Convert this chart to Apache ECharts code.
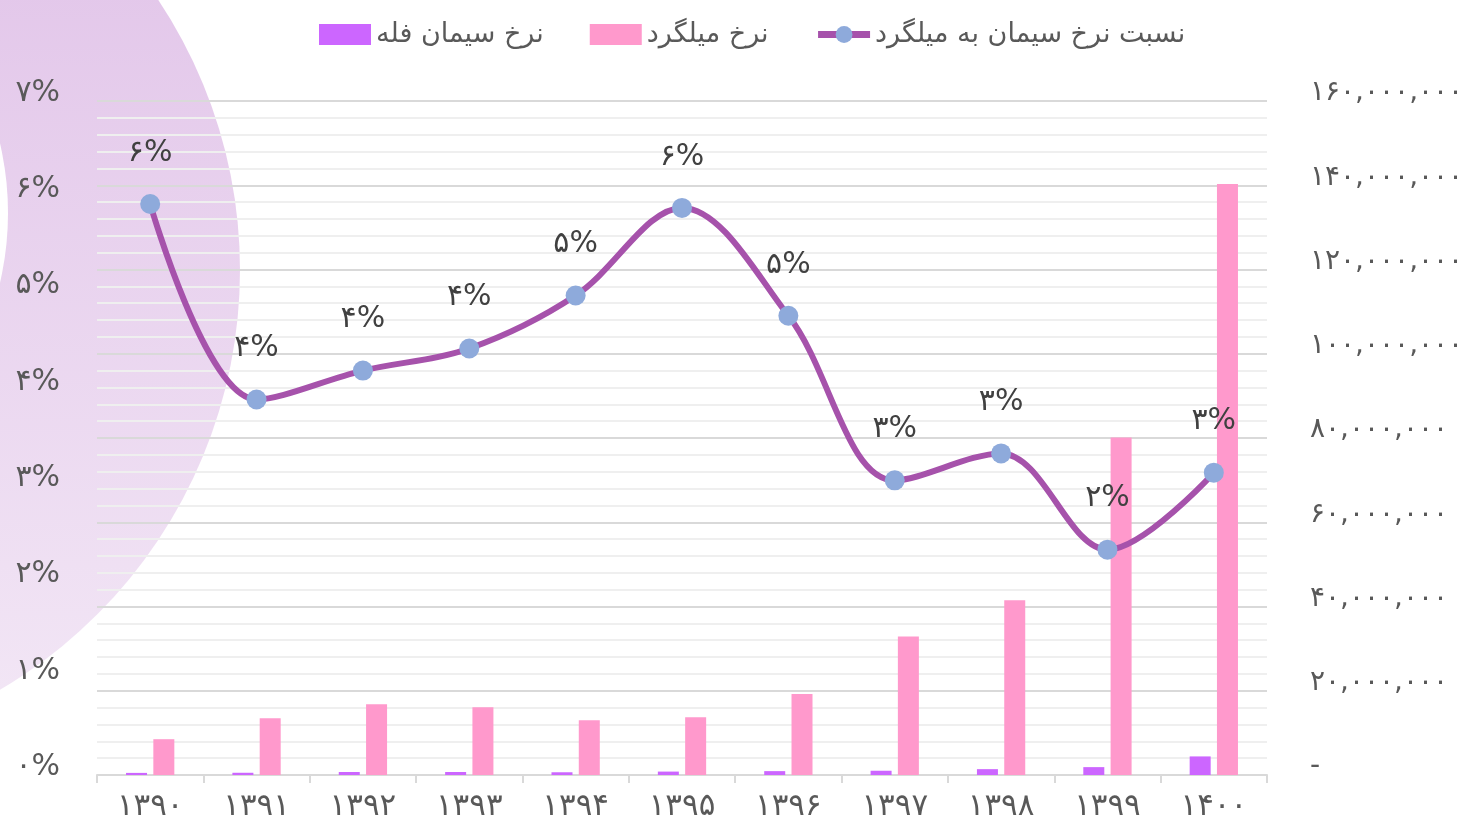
<!DOCTYPE html>
<html>
<head>
<meta charset="utf-8">
<script src="https://cdn.jsdelivr.net/npm/echarts@6/dist/echarts.min.js"></script>
<style>
  html, body { margin: 0; padding: 0; background: #fff; }
  #chart { width: 1478px; height: 822px; }
</style>
</head>
<body>
<div id="chart"></div>
<script>
const years = ["۱۳۹۰", "۱۳۹۱", "۱۳۹۲", "۱۳۹۳", "۱۳۹۴", "۱۳۹۵", "۱۳۹۶", "۱۳۹۷", "۱۳۹۸", "۱۳۹۹", "۱۴۰۰"];

// نرخ میلگرد
const rebarRate = [8500000, 13500000, 16800000, 16100000, 13000000, 13700000, 19200000, 32900000, 41500000, 80100000, 140300000];
// نرخ سیمان فله
const cementRate = [500000, 530000, 710000, 710000, 650000, 810000, 920000, 1010000, 1390000, 1870000, 4410000];
// نسبت نرخ سیمان به میلگرد
const ratio = [0.0593, 0.039, 0.042, 0.0443, 0.0498, 0.0589, 0.0477, 0.0306, 0.0334, 0.0234, 0.0314];

const names = ["نرخ سیمان فله", "نرخ میلگرد", "نسبت نرخ سیمان به میلگرد"];

const font = "DejaVu Sans";
const faDigits = "۰۱۲۳۴۵۶۷۸۹";
const toFa = (s) => String(s).replace(/\d/g, (d) => faDigits[d]);

const chart = echarts.init(document.getElementById("chart"));

chart.setOption({
  animation: false,
  textStyle: { fontFamily: font },
  graphic: [
    {
      type: "circle",
      z: -20,
      silent: true,
      shape: { cx: -247, cy: 270, r: 487 },
      style: {
        fill: new echarts.graphic.LinearGradient(0, 0, 0, 1, [
          { offset: 0, color: "#dfbfe7" },
          { offset: 1, color: "#f3e8f6" },
        ]),
      },
    },
    {
      type: "circle",
      z: -19,
      silent: true,
      shape: { cx: -300, cy: 213, r: 308 },
      style: { fill: "#ffffff" },
    },
  ],
  legend: {
    left: 314,
    top: 16,
    itemWidth: 52,
    itemHeight: 21,
    itemGap: 46,
    data: [
      { name: names[0], icon: "rect" },
      { name: names[1], icon: "rect" },
      { name: names[2], lineStyle: { width: 7 } },
    ],
    textStyle: { fontSize: 27, color: "#595959", fontFamily: font },
  },
  grid: { left: 97, right: 211, top: 101, bottom: 46 },
  xAxis: {
    type: "category",
    data: years,
    axisLine: { lineStyle: { color: "#d9d9d9", width: 2 } },
    axisTick: { show: true, length: 8, lineStyle: { color: "#d9d9d9", width: 2 } },
    axisLabel: { color: "#595959", fontSize: 31, margin: 16 },
  },
  yAxis: [
    {
      type: "value",
      min: 0,
      max: 0.07,
      interval: 0.01,
      position: "left",
      splitLine: { show: false },
      axisLine: { show: false },
      axisTick: { show: false },
      axisLabel: {
        color: "#595959",
        fontSize: 30,
        margin: 37,
        verticalAlign: "bottom",
        lineHeight: 16,
        formatter: (v) => toFa(Math.round(v * 100)) + "%",
      },
    },
    {
      type: "value",
      min: 0,
      max: 160000000,
      interval: 20000000,
      position: "right",
      axisLine: { show: false },
      axisTick: { show: false },
      splitLine: { show: true, lineStyle: { color: "#d9d9d9", width: 2 } },
      minorTick: { show: false, splitNumber: 5 },
      minorSplitLine: { show: true, lineStyle: { color: "#efefef", width: 2 } },
      axisLabel: {
        color: "#595959",
        fontSize: 28,
        margin: 43,
        verticalAlign: "bottom",
        lineHeight: 16,
        formatter: (v) => (v === 0 ? "-" : toFa(v.toLocaleString("en-US"))),
      },
    },
  ],
  series: [
    {
      name: names[0],
      type: "bar",
      yAxisIndex: 1,
      data: cementRate,
      barWidth: 21,
      barGap: "30%",
      itemStyle: { color: "#cc66ff" },
    },
    {
      name: names[1],
      type: "bar",
      yAxisIndex: 1,
      data: rebarRate,
      barWidth: 21,
      itemStyle: { color: "#ff99cc" },
    },
    {
      name: names[2],
      type: "line",
      yAxisIndex: 0,
      data: ratio,
      smooth: 0.35,
      symbol: "circle",
      symbolSize: 20,
      z: 5,
      lineStyle: { color: "#a652ab", width: 6 },
      itemStyle: { color: "#8eaadb" },
      label: {
        show: true,
        position: "top",
        distance: 26,
        fontSize: 30,
        color: "#404040",
        formatter: (p) => toFa(Math.round(p.value * 100)) + "%",
      },
    },
  ],
});
</script>
</body>
</html>
